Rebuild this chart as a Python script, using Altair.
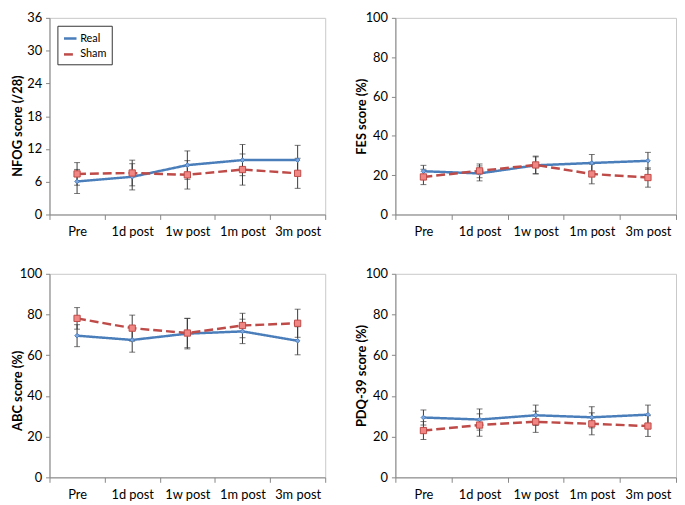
import altair as alt
import pandas as pd

categories = ["Pre", "1d post", "1w post", "1m post", "3m post"]
groups = ["Real", "Sham"]

nfog_real = [6.05, 6.9, 9.04, 9.96, 9.96]
nfog_real_err = [2.2, 2.4, 2.6, 2.85, 2.7]
nfog_sham = [7.43, 7.6, 7.26, 8.23, 7.54]
nfog_sham_err = [2.07, 2.35, 2.6, 2.85, 2.75]

fes_real = [22.0, 20.9, 25.0, 26.2, 27.3]
fes_real_err = [3.0, 3.8, 4.3, 4.3, 4.3]
fes_sham = [19.1, 22.2, 25.2, 20.6, 18.8]
fes_sham_err = [3.9, 3.5, 4.5, 5.0, 4.9]

abc_real = [69.6, 67.5, 70.6, 71.7, 67.1]
abc_real_err = [5.4, 6.0, 7.5, 6.0, 6.9]
abc_sham = [78.1, 73.3, 70.9, 74.6, 75.7]
abc_sham_err = [5.3, 6.4, 7.2, 6.0, 6.9]

pdq_real = [29.4, 28.4, 30.5, 29.5, 30.8]
pdq_real_err = [3.7, 5.2, 5.0, 5.2, 4.7]
pdq_sham = [23.0, 25.7, 27.3, 26.3, 25.2]
pdq_sham_err = [4.4, 5.5, 5.2, 5.4, 5.1]

BLUE = "#4A7EBB"
RED = "#BE4B48"
FONT = "Lato"


def make_df(real, real_err, sham, sham_err):
    rows = []
    for g, means, errs in (("Real", real, real_err), ("Sham", sham, sham_err)):
        for c, m, e in zip(categories, means, errs):
            rows.append({"cat": c, "group": g, "mean": m, "lo": m - e, "hi": m + e})
    return pd.DataFrame(rows)


def panel(df, title, ymax, ystep, show_legend, width, height, title_x, title_y=None):
    x = alt.X(
        "cat:N",
        sort=categories,
        scale=alt.Scale(type="band", paddingInner=0, paddingOuter=0),
        axis=alt.Axis(title=None, tickBand="extent", labelAngle=0, tickSize=5,
                      labelPadding=6),
    )
    yscale = alt.Scale(domain=[0, ymax], nice=False)
    axis_kwargs = dict(
        title=title,
        values=list(range(0, ymax + 1, ystep)),
        tickSize=4,
        labelPadding=4,
        titleX=title_x,
        titleBaseline="middle",
    )
    if title_y is not None:
        axis_kwargs["titleY"] = title_y
    yaxis = alt.Axis(**axis_kwargs)

    def Y(field):
        return alt.Y(field, type="quantitative", scale=yscale, axis=yaxis, title=title)

    legend = None
    if show_legend:
        legend = alt.Legend(title=None)
    base = alt.Chart(df)
    line = base.mark_line(strokeWidth=2.5).encode(
        x=x,
        y=Y("mean"),
        color=alt.Color("group:N", scale=alt.Scale(domain=groups, range=[BLUE, RED]),
                        legend=legend),
        strokeDash=alt.StrokeDash("group:N",
                                  scale=alt.Scale(domain=groups, range=[[1, 0], [9, 4]]),
                                  legend=legend),
    )
    err = base.mark_rule(color="#3A3A3A", strokeWidth=1).encode(
        x=x, y=Y("lo"), y2="hi:Q"
    )
    cap_lo = base.mark_tick(color="#3A3A3A", thickness=1, size=6).encode(x=x, y=Y("lo"))
    cap_hi = base.mark_tick(color="#3A3A3A", thickness=1, size=6).encode(x=x, y=Y("hi"))
    pts = base.mark_point(filled=True, opacity=1, strokeWidth=1).encode(
        x=x,
        y=Y("mean"),
        shape=alt.Shape("group:N", scale=alt.Scale(domain=groups, range=["diamond", "square"]),
                        legend=None),
        fill=alt.Fill("group:N", scale=alt.Scale(domain=groups, range=["#7EA6E0", "#F08784"]),
                      legend=None),
        stroke=alt.Stroke("group:N", scale=alt.Scale(domain=groups, range=[BLUE, RED]),
                          legend=None),
        size=alt.Size("group:N", scale=alt.Scale(domain=groups, range=[22, 40]), legend=None),
    )
    return alt.layer(line, err, cap_lo, cap_hi, pts).properties(width=width, height=height)


p1 = panel(make_df(nfog_real, nfog_real_err, nfog_sham, nfog_sham_err),
           "NFOG score (/28)", 36, 6, True, 279, 199, -32, title_y=109)
p2 = panel(make_df(fes_real, fes_real_err, fes_sham, fes_sham_err),
           "FES score (%)", 100, 20, False, 284, 199, -34)
p3 = panel(make_df(abc_real, abc_real_err, abc_sham, abc_sham_err),
           "ABC score (%)", 100, 20, False, 279, 206, -32, title_y=118)
p4 = panel(make_df(pdq_real, pdq_real_err, pdq_sham, pdq_sham_err),
           "PDQ-39 score (%)", 100, 20, False, 284, 206, -34)

chart = (
    alt.concat(p1, p2, p3, p4, columns=2, spacing={"row": 28, "column": 29})
    .resolve_legend(color="independent", strokeDash="independent")
    .properties(padding={"left": 3, "top": 0, "right": 0, "bottom": 0},
                background="white")
    .configure_view(stroke="#C8C8C8", strokeWidth=1)
    .configure_axis(
        grid=False,
        domainColor="#868686",
        tickColor="#868686",
        labelColor="#000000",
        labelFont=FONT,
        labelFontSize=13,
        titleFont=FONT,
        titleFontSize=13,
        titleFontWeight="bold",
        titleColor="#000000",
    )
    .configure_legend(
        orient="top-left",
        offset=8,
        strokeColor="#333333",
        fillColor="white",
        padding=5,
        labelFont=FONT,
        labelFontSize=11,
        labelColor="#000000",
        symbolType="stroke",
        symbolStrokeWidth=2.5,
        symbolSize=160,
        rowPadding=3,
        labelOffset=2,
    )
)

chart.save("out.html", embed_options={"renderer": "svg", "actions": False})
